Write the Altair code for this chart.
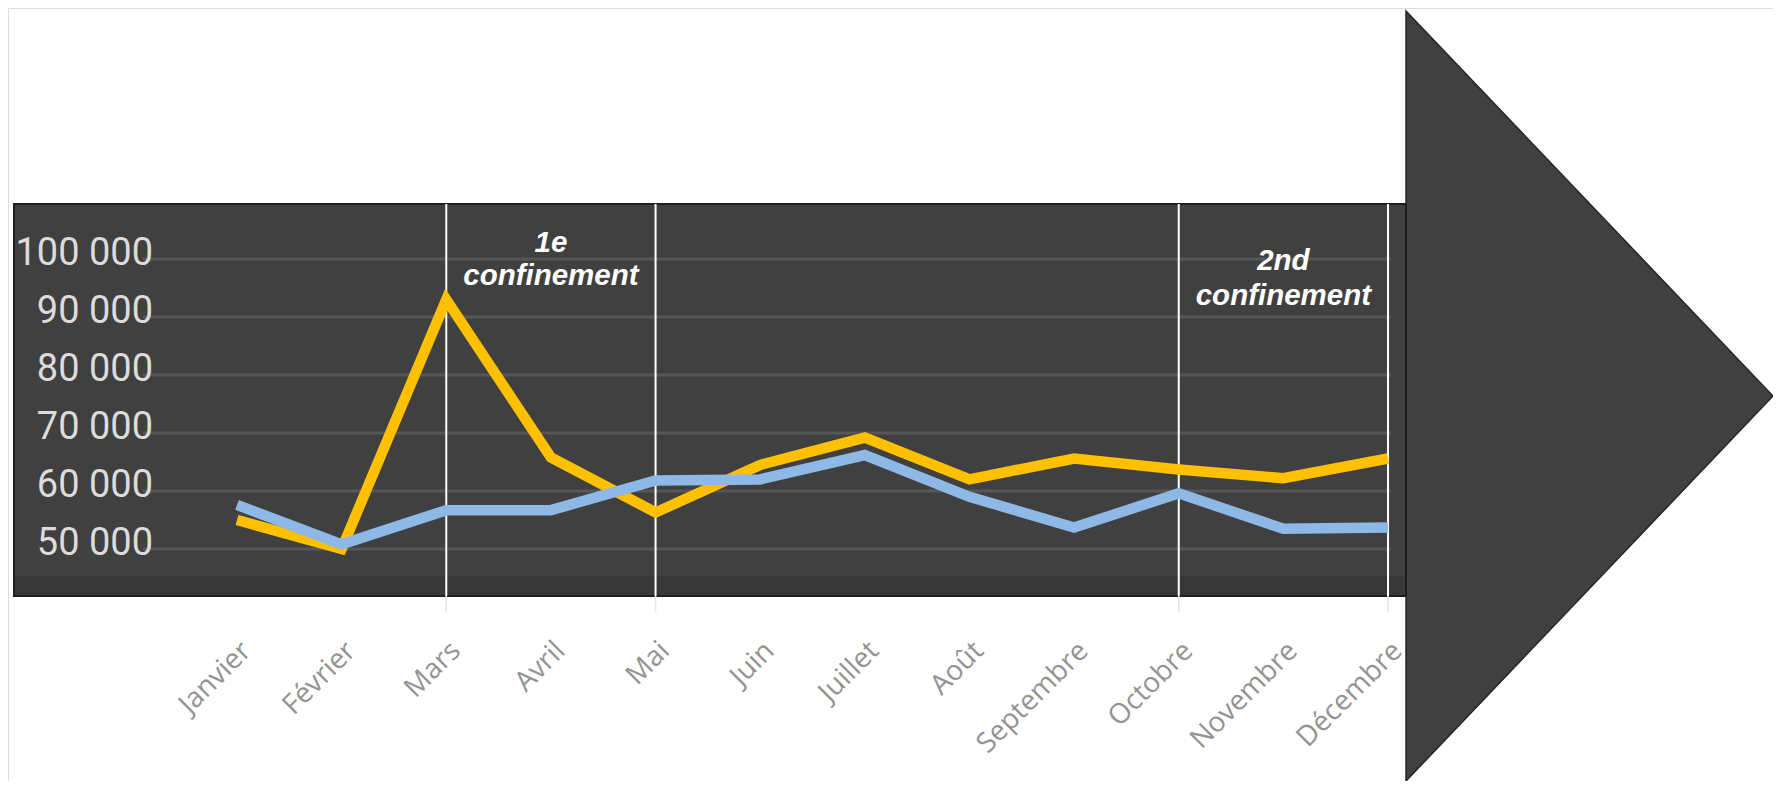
import altair as alt
import pandas as pd

# ---------------- data ----------------
MONTHS = ["Janvier", "Février", "Mars", "Avril", "Mai", "Juin", "Juillet",
          "Août", "Septembre", "Octobre", "Novembre", "Décembre"]
SERIES = ["Série 1", "Série 2"]
YELLOW = [55000, 50000, 93000, 65800, 56300, 64500, 69200, 62000, 65600, 63700, 62200, 65600]
BLUE = [57600, 50800, 56700, 56700, 61800, 62000, 66200, 59000, 53700, 59600, 53500, 53700]
Y_TICKS = [50000, 60000, 70000, 80000, 90000, 100000]
CONF_START = ["Mars", "Octobre"]
CONF_END = ["Mai", "Décembre"]
CONF_TITLE = ["1e", "2nd"]
CONF_WORD = ["confinement", "confinement"]

# ---------------- tables ----------------
lines = pd.DataFrame({
    "idx": list(range(len(MONTHS))) * 2,
    "month": MONTHS * 2,
    "value": YELLOW + BLUE,
    "series": [SERIES[0]] * len(MONTHS) + [SERIES[1]] * len(MONTHS),
})
ticks = pd.DataFrame({"v": Y_TICKS,
                      "label": [f"{v:,}".replace(",", " ") for v in Y_TICKS]})
months = pd.DataFrame({"idx": list(range(len(MONTHS))), "month": MONTHS})
bounds = [MONTHS.index(m) for m in CONF_START + CONF_END]
vlines = pd.DataFrame({"idx": bounds})
conf = pd.DataFrame({
    "mid": [(MONTHS.index(s) + MONTHS.index(e)) / 2 for s, e in zip(CONF_START, CONF_END)],
    "title": CONF_TITLE,
    "word": CONF_WORD,
})
one = pd.DataFrame({"k": [0]})

# ---------------- layout ----------------
W, H = 1765, 773
xs = alt.Scale(domain=[-2.1884, 14.679], nice=False, zero=False)
ys = alt.Scale(domain=[10000, 143276], nice=False, zero=False)
DARK = "#404040"

arrow_head = alt.Chart(one).mark_point(
    shape="M -0.4766 -1 L 0.4766 0 L -0.4766 1 Z",
    filled=True, size=592900, color=DARK, opacity=1,
    stroke="#262626", strokeWidth=1.5,
).encode(x=alt.value(1581.5), y=alt.value(388))

body = alt.Chart(one).mark_rect(color=DARK, stroke="#1e1e1e", strokeWidth=2).encode(
    x=alt.value(6), x2=alt.value(1398), y=alt.value(196), y2=alt.value(588))

bottom_band = alt.Chart(one).mark_rect(color="#383838").encode(
    x=alt.value(7), x2=alt.value(1397), y=alt.value(568), y2=alt.value(587))

grid = alt.Chart(ticks).mark_rule(color="#575757", strokeWidth=3).encode(
    y=alt.Y("v:Q", scale=ys, axis=None),
    x=alt.value(135), x2=alt.value(1383))

ylabels = alt.Chart(ticks).mark_text(
    align="right", baseline="middle", dy=-5,
    font="Roboto", fontSize=38, color="#dcdcdc",
).encode(y=alt.Y("v:Q", scale=ys, axis=None), x=alt.value(145), text="label:N")

vrules = alt.Chart(vlines).mark_rule(color="white", strokeWidth=2).encode(
    x=alt.X("idx:Q", scale=xs, axis=None), y=alt.value(196), y2=alt.value(588))
vticks = alt.Chart(vlines).mark_rule(color="#e4e4e4", strokeWidth=1.5).encode(
    x=alt.X("idx:Q", scale=xs, axis=None), y=alt.value(588), y2=alt.value(604))

series_lines = alt.Chart(lines).mark_line(strokeWidth=10.5).encode(
    x=alt.X("idx:Q", scale=xs, axis=None),
    y=alt.Y("value:Q", scale=ys, axis=None),
    color=alt.Color("series:N", scale=alt.Scale(domain=SERIES, range=["#FFC000", "#8EB8E5"]),
                    legend=None),
)

ANN_Y = [(244, 277), (262, 297)]
ann_layers = []
for k in range(len(CONF_TITLE)):
    base = alt.Chart(conf.iloc[[k]])
    style = dict(align="center", baseline="alphabetic", font="Liberation Sans",
                 fontStyle="italic", fontWeight="bold", fontSize=29.5, color="white")
    ann_layers.append(base.mark_text(**style).encode(
        x=alt.X("mid:Q", scale=xs, axis=None), y=alt.value(ANN_Y[k][0]), text="title:N"))
    ann_layers.append(base.mark_text(**style).encode(
        x=alt.X("mid:Q", scale=xs, axis=None), y=alt.value(ANN_Y[k][1]), text="word:N"))

xlabels = alt.Chart(months).mark_text(
    angle=315, align="right", baseline="top",
    font="Open Sans", fontSize=28, color="#939393",
).encode(x=alt.X("idx:Q", scale=xs, axis=None), y=alt.value(629), text="month:N")

chart = alt.layer(
    arrow_head, body, bottom_band, grid, vrules, vticks, series_lines,
    *ann_layers, ylabels, xlabels
).properties(
    width=W, height=H, padding=0,
    autosize=alt.AutoSizeParams(type="none"),
).configure_view(stroke=None).configure(background="white")

chart.save("out.html", embed_options={"renderer": "svg", "actions": False})
